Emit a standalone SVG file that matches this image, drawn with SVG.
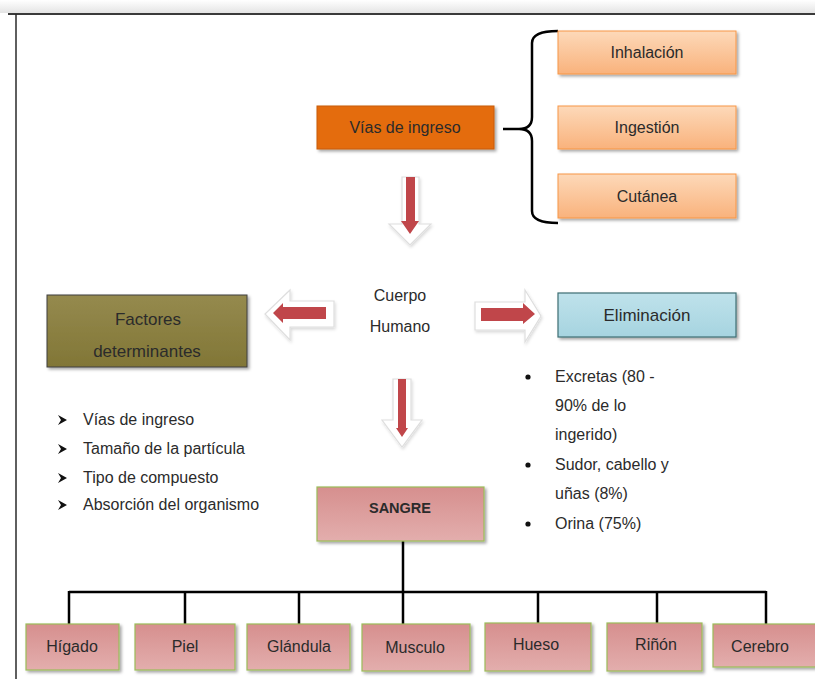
<svg xmlns="http://www.w3.org/2000/svg" width="815" height="679" viewBox="0 0 815 679">
<defs>
<style>
text{font-family:"Liberation Sans",Arial,sans-serif;fill:#2b2b2b;}
.lbl{font-size:16px;text-anchor:middle;}
.big{font-size:17px;text-anchor:middle;}
.lst{font-size:16px;}
.peach{fill:url(#gPeach);stroke:#F79646;stroke-width:1;filter:url(#sh);}
.pink{fill:url(#gPink);stroke:#9BBB59;stroke-width:1.2;filter:url(#sh);}
.line{fill:none;stroke:#000;stroke-width:2.5;}
.red{fill:#C0464A;}
.ghost{fill:#fff;stroke:#dedede;stroke-width:1.2;filter:url(#soft);}
</style>
<linearGradient id="gPeach" x1="0" y1="0" x2="0" y2="1"><stop offset="0" stop-color="#FDD9B9"/><stop offset="1" stop-color="#F9B27C"/></linearGradient>
<linearGradient id="gPink" x1="0" y1="0" x2="0" y2="1"><stop offset="0" stop-color="#D68F8E"/><stop offset="1" stop-color="#E3AEAD"/></linearGradient>
<linearGradient id="gOlive" x1="0" y1="0" x2="0" y2="1"><stop offset="0" stop-color="#958A4E"/><stop offset="1" stop-color="#817636"/></linearGradient>
<linearGradient id="gBlue" x1="0" y1="0" x2="0" y2="1"><stop offset="0" stop-color="#BFE2EB"/><stop offset="1" stop-color="#A6D4E0"/></linearGradient>
<linearGradient id="gTop" x1="0" y1="0" x2="0" y2="1"><stop offset="0" stop-color="#ffffff"/><stop offset="1" stop-color="#e4e4e4"/></linearGradient>
<filter id="sh" x="-10%" y="-10%" width="125%" height="140%"><feDropShadow dx="2" dy="2" stdDeviation="1.5" flood-color="#000" flood-opacity="0.35"/></filter>
<filter id="soft" x="-20%" y="-20%" width="150%" height="150%"><feDropShadow dx="1" dy="2" stdDeviation="1.5" flood-color="#000" flood-opacity="0.15"/></filter>
</defs>
<rect width="815" height="679" fill="#fff"/>
<rect x="0" y="0" width="815" height="13" fill="url(#gTop)"/>
<line x1="8" y1="14" x2="815" y2="14" stroke="#3a3a3a" stroke-width="2"/>
<line x1="16" y1="14" x2="16" y2="679" stroke="#2a2a2a" stroke-width="1.5"/>

<g id="connectors">
<path class="line" d="M558,31 Q532,31 532,43 L532,117 Q532,129 519,129 L503,129 M519,129 Q532,129 532,141 L532,211 Q532,223 558,223"/>
<path class="line" d="M403,541 L403,592 M69,592 L766,592 M69,591 L69,624 M185,591 L185,624 M299,591 L299,624 M403,591 L403,624 M538,591 L538,624 M657,591 L657,624 M766,591 L766,624"/>
<g id="arrow-down-1">
<polygon class="ghost" points="402,177 419,177 419,224 431,224 410,245 389,224 402,224"/>
<polygon class="red" points="406,177 415,177 415,221 419,221 410,234 401,221 406,221"/>
</g>
<g id="arrow-left">
<polygon class="ghost" points="334,301 334,327 290,327 290,340 265,314 290,290 290,301"/>
<polygon class="red" points="326,307 326,319 283,319 283,323 273,313 283,303 283,307"/>
</g>
<g id="arrow-right">
<polygon class="ghost" points="475,302 525,302 525,290 541,316 525,342 525,330 475,330"/>
<polygon class="red" points="481,308 523,308 523,303 535,314 523,324 523,321 481,321"/>
</g>
<g id="arrow-down-2">
<polygon class="ghost" points="393,379 411,379 411,420 422,420 402,447 382,420 393,420"/>
<polygon class="red" points="398,379 406,379 406,428 408,428 402,437 396,428 398,428"/>
</g>
</g>

<g id="vias">
<rect x="317" y="106" width="177" height="43" fill="#E46C0A" stroke="#C85A08" stroke-width="1" filter="url(#sh)"/>
<text class="lbl" x="405" y="133">Vías de ingreso</text>
</g>
<g id="inhalacion">
<rect class="peach" x="558" y="31" width="178" height="43"/>
<text class="lbl" x="647" y="58">Inhalación</text>
</g>
<g id="ingestion">
<rect class="peach" x="558" y="106" width="178" height="43"/>
<text class="lbl" x="647" y="133">Ingestión</text>
</g>
<g id="cutanea">
<rect class="peach" x="558" y="174" width="178" height="44"/>
<text class="lbl" x="647" y="202">Cutánea</text>
</g>

<g id="cuerpo">
<text class="lbl" x="400" y="301">Cuerpo</text>
<text class="lbl" x="400" y="332">Humano</text>
</g>

<g id="factores">
<rect x="47" y="295" width="200" height="72" fill="url(#gOlive)" stroke="#3f3f3f" stroke-width="1" filter="url(#sh)"/>
<text class="big" x="148" y="325">Factores</text>
<text class="big" x="147" y="357">determinantes</text>
</g>
<g id="factores-list">
<polygon points="58,415 67,420 58,425 61,420" fill="#111"/>
<text class="lst" x="83" y="425">Vías de ingreso</text>
<polygon points="58,444 67,449 58,454 61,449" fill="#111"/>
<text class="lst" x="83" y="454">Tamaño de la partícula</text>
<polygon points="58,473 67,478 58,483 61,478" fill="#111"/>
<text class="lst" x="83" y="483">Tipo de compuesto</text>
<polygon points="58,500 67,505 58,510 61,505" fill="#111"/>
<text class="lst" x="83" y="510">Absorción del organismo</text>
</g>

<g id="eliminacion">
<rect x="558" y="293" width="178" height="44" fill="url(#gBlue)" stroke="#3E6E73" stroke-width="1.2" filter="url(#sh)"/>
<text class="big" x="647" y="321">Eliminación</text>
</g>
<g id="eliminacion-list">
<circle cx="528" cy="377" r="2.6" fill="#111"/>
<text class="lst" x="555" y="382">Excretas (80 -</text>
<text class="lst" x="555" y="411">90% de lo</text>
<text class="lst" x="555" y="440">ingerido)</text>
<circle cx="528" cy="465" r="2.6" fill="#111"/>
<text class="lst" x="555" y="470">Sudor, cabello y</text>
<text class="lst" x="555" y="499">uñas (8%)</text>
<circle cx="528" cy="524" r="2.6" fill="#111"/>
<text class="lst" x="555" y="529">Orina (75%)</text>
</g>

<g id="sangre">
<rect class="pink" x="317" y="487" width="167" height="54"/>
<text x="400" y="513" style="font-size:14.5px;font-weight:bold;text-anchor:middle">SANGRE</text>
</g>
<g id="higado"><rect class="pink" x="26" y="624" width="93" height="46"/><text class="lbl" x="72" y="652">Hígado</text></g>
<g id="piel"><rect class="pink" x="135" y="624" width="100" height="46"/><text class="lbl" x="185" y="652">Piel</text></g>
<g id="glandula"><rect class="pink" x="247" y="624" width="103" height="46"/><text class="lbl" x="299" y="652">Glándula</text></g>
<g id="musculo"><rect class="pink" x="362" y="624" width="108" height="47"/><text class="lbl" x="415" y="653">Musculo</text></g>
<g id="hueso"><rect class="pink" x="485" y="623" width="106" height="48"/><text class="lbl" x="536" y="650">Hueso</text></g>
<g id="rinon"><rect class="pink" x="607" y="623" width="95" height="48"/><text class="lbl" x="656" y="650">Riñón</text></g>
<g id="cerebro"><rect class="pink" x="713" y="624" width="104" height="43"/><text class="lbl" x="760" y="652">Cerebro</text></g>
</svg>
